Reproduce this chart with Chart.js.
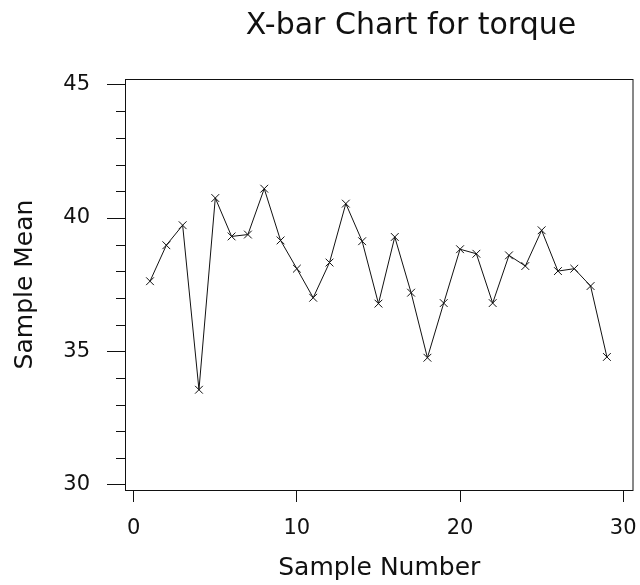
<!DOCTYPE html>
<html>
<head>
<meta charset="utf-8">
<script src="https://cdn.jsdelivr.net/npm/chart.js@4"></script>
<style>
html,body{margin:0;padding:0;background:#fff;}
#wrap{width:640px;height:585px;position:relative;}
</style>
</head>
<body>
<div id="wrap"><canvas id="c" width="640" height="585"></canvas></div>
<script>
const chartTitle = "X-bar Chart for torque";
const xTitle = "Sample Number";
const yTitle = "Sample Mean";
const sampleNumbers = [1,2,3,4,5,6,7,8,9,10,11,12,13,14,15,16,17,18,19,20,21,22,23,24,25,26,27,28,29];
const sampleMeans = [37.63,38.98,39.73,33.56,40.75,39.31,39.38,41.10,39.16,38.10,37.01,38.33,40.54,39.13,36.79,39.29,37.20,34.76,36.81,38.83,38.66,36.81,38.60,38.20,39.54,38.01,38.10,37.45,34.79];
const xTickValues = [0,10,20,30];
const yTickValues = [30,31,32,33,34,35,36,37,38,39,40,41,42,43,44,45];
const yMajorStep = 5;

const FONT = "'DejaVu Sans', 'Liberation Sans', Arial, sans-serif";
const INK = '#111';

const framePlugin = {
  id: 'frame',
  afterDraw(chart) {
    const {ctx, chartArea} = chart;
    const ys = chart.scales.y;
    ctx.save();
    ctx.strokeStyle = INK;
    ctx.lineWidth = 1;
    ctx.strokeRect(chartArea.left + 0.5, chartArea.top + 0.5,
                   chartArea.right - chartArea.left - 1, chartArea.bottom - chartArea.top);
    // minor y ticks
    ctx.beginPath();
    yTickValues.forEach(v => {
      if (v % yMajorStep !== 0) {
        const py = Math.round(ys.getPixelForValue(v)) + 0.5;
        ctx.moveTo(chartArea.left - 9, py);
        ctx.lineTo(chartArea.left + 0.5, py);
      }
    });
    ctx.stroke();
    // chart title
    ctx.fillStyle = INK;
    ctx.font = "30px " + FONT;
    ctx.textAlign = 'center';
    ctx.textBaseline = 'alphabetic';
    ctx.fillText(chartTitle, 411, 34);
    ctx.restore();
  }
};

new Chart(document.getElementById('c'), {
  type: 'scatter',
  data: {
    datasets: [{
      data: sampleNumbers.map((x, i) => ({x: x, y: sampleMeans[i]})),
      showLine: true,
      borderColor: INK,
      borderWidth: 1,
      pointStyle: 'crossRot',
      pointRadius: 5.5,
      pointBorderColor: INK,
      pointBorderWidth: 1,
      tension: 0
    }]
  },
  options: {
    responsive: false,
    animation: false,
    devicePixelRatio: 1,
    layout: {padding: {top: 79, right: 6, left: 0, bottom: 0}},
    plugins: {legend: {display: false}, tooltip: {enabled: false}, title: {display: false}},
    scales: {
      x: {
        type: 'linear',
        min: -0.533,
        max: 30.63,
        afterBuildTicks(s) { s.ticks = xTickValues.map(v => ({value: v})); },
        afterFit(s) { s.height = 95; s.paddingLeft = 0; s.paddingRight = 0; },
        grid: {drawOnChartArea: false, drawTicks: true, tickLength: 12, color: INK, lineWidth: 1},
        border: {display: false},
        ticks: {color: INK, font: {family: FONT, size: 21}, padding: 14, maxRotation: 0, autoSkip: false},
        title: {display: true, text: xTitle, color: INK, font: {family: FONT, size: 25}, padding: {top: 10, bottom: 2}}
      },
      y: {
        type: 'linear',
        min: 29.80,
        max: 45.214,
        afterBuildTicks(s) { s.ticks = yTickValues.map(v => ({value: v})); },
        afterFit(s) { s.width = 125; s.paddingTop = 0; s.paddingBottom = 0; },
        grid: {
          drawOnChartArea: false, drawTicks: true, tickLength: 18, lineWidth: 1,
          color: INK,
          tickColor: (c) => (c.tick && c.tick.value % yMajorStep === 0) ? INK : 'rgba(0,0,0,0)'
        },
        border: {display: false},
        ticks: {
          color: INK, font: {family: FONT, size: 21}, padding: 17, autoSkip: false,
          callback: (v) => (v % yMajorStep === 0 ? String(v) : '')
        },
        title: {display: true, text: yTitle, color: INK, font: {family: FONT, size: 25}, padding: {top: 10, bottom: 0}}
      }
    }
  },
  plugins: [framePlugin]
});
</script>
</body>
</html>
